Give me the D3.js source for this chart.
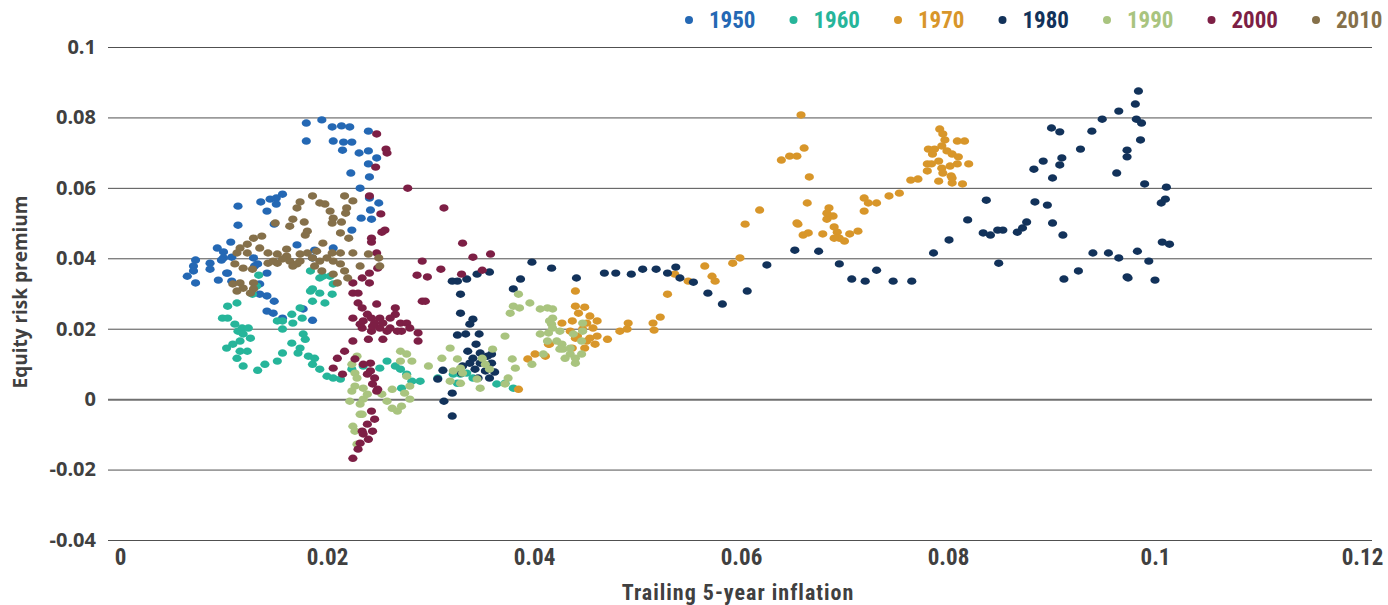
<!DOCTYPE html>
<html>
<head>
<meta charset="utf-8">
<script src="https://cdn.jsdelivr.net/npm/d3@7"></script>
<style>
body { margin: 0; background: #fff; }
svg { display: block; }
.cond { font-family: "Liberation Sans Narrow", "Roboto Condensed", "DejaVu Sans Condensed", sans-serif; font-weight: bold; font-stretch: condensed; }
.reg { font-family: "Open Sans", "Noto Sans", sans-serif; font-weight: bold; }
</style>
</head>
<body>
<svg width="1388" height="605"></svg>
<script>
var decades = ["1950", "1960", "1970", "1980", "1990", "2000", "2010"];
var colors = ["#2468b4", "#26b59a", "#d8962a", "#12325a", "#a9c47f", "#7d1f45", "#85704a"];
var xTicks = [0, 0.02, 0.04, 0.06, 0.08, 0.1, 0.12];
var xTickLabels = ["0", "0.02", "0.04", "0.06", "0.08", "0.1", "0.12"];
var yTicks = [-0.04, -0.02, 0, 0.02, 0.04, 0.06, 0.08, 0.1];
var yTickLabels = ["-0.04", "-0.02", "0", "0.02", "0.04", "0.06", "0.08", "0.1"];

// [trailing 5-year inflation, equity risk premium]
var s1950 = [
[0.0180,0.0784],[0.0195,0.0793],[0.0205,0.0773],[0.0214,0.0776],[0.0222,0.0773],[0.0240,0.0761],
[0.0180,0.0733],[0.0206,0.0733],[0.0216,0.0730],[0.0224,0.0730],[0.0215,0.0707],[0.0231,0.0699],
[0.0240,0.0705],[0.0248,0.0685],[0.0240,0.0668],[0.0223,0.0642],[0.0241,0.0631],[0.0232,0.0599],
[0.0241,0.0571],[0.0250,0.0557],[0.0242,0.0537],[0.0233,0.0514],[0.0243,0.0511],[0.0224,0.0480],
[0.0114,0.0548],[0.0136,0.0560],[0.0145,0.0568],[0.0151,0.0571],[0.0157,0.0582],[0.0151,0.0554],
[0.0142,0.0534],[0.0114,0.0494],[0.0149,0.0497],[0.0171,0.0438],[0.0188,0.0423],[0.0206,0.0429],
[0.0107,0.0446],[0.0094,0.0429],[0.0100,0.0418],[0.0100,0.0401],[0.0098,0.0395],[0.0108,0.0403],
[0.0073,0.0395],[0.0071,0.0378],[0.0087,0.0386],[0.0087,0.0369],[0.0065,0.0349],[0.0071,0.0364],
[0.0104,0.0358],[0.0142,0.0358],[0.0133,0.0384],[0.0129,0.0401],
[0.0073,0.0330],[0.0095,0.0338],[0.0103,0.0358],[0.0108,0.0335],[0.0130,0.0378],[0.0135,0.0327],
[0.0135,0.0298],[0.0142,0.0293],[0.0149,0.0278],[0.0142,0.0250],[0.0148,0.0244],[0.0157,0.0230],
[0.0177,0.0256],[0.0186,0.0224],[0.0186,0.0401]
];
var s1960 = [
[0.0134,0.0352],[0.0128,0.0298],[0.0132,0.0321],[0.0184,0.0364],[0.0193,0.0344],[0.0203,0.0349],
[0.0206,0.0327],[0.0205,0.0298],[0.0193,0.0301],[0.0186,0.0313],[0.0186,0.0278],[0.0198,0.0273],
[0.0174,0.0259],[0.0166,0.0241],[0.0176,0.0230],[0.0167,0.0216],[0.0157,0.0222],[0.0152,0.0222],
[0.0157,0.0199],[0.0113,0.0273],[0.0104,0.0264],[0.0099,0.0230],[0.0104,0.0230],[0.0111,0.0213],
[0.0118,0.0202],[0.0124,0.0202],[0.0114,0.0193],[0.0119,0.0185],[0.0126,0.0173],[0.0116,0.0165],
[0.0109,0.0156],[0.0103,0.0145],[0.0116,0.0136],[0.0123,0.0136],[0.0113,0.0116],[0.0119,0.0094],
[0.0133,0.0082],[0.0140,0.0099],[0.0152,0.0108],[0.0157,0.0131],[0.0166,0.0159],[0.0177,0.0185],
[0.0179,0.0170],[0.0174,0.0145],[0.0172,0.0131],[0.0182,0.0122],[0.0188,0.0116],[0.0186,0.0099],
[0.0193,0.0085],[0.0200,0.0065],[0.0206,0.0060],[0.0213,0.0057],[0.0224,0.0085],[0.0235,0.0094],
[0.0251,0.0088],[0.0258,0.0108],[0.0266,0.0094],[0.0272,0.0031],[0.0271,0.0085],[0.0277,0.0071],
[0.0282,0.0051],[0.0290,0.0051],[0.0307,0.0060],[0.0322,0.0071],[0.0326,0.0045],[0.0329,0.0071],
[0.0335,0.0074],[0.0341,0.0060],[0.0364,0.0043],[0.0372,0.0045],[0.0380,0.0031],[0.0196,0.0349],
[0.0184,0.0307]
];
var s1970 = [
[0.0604,0.0497],[0.0655,0.0497],[0.0660,0.0466],[0.0665,0.0472],[0.0565,0.0378],[0.0592,0.0386],
[0.0599,0.0401],[0.0536,0.0355],[0.0549,0.0335],[0.0572,0.0349],[0.0575,0.0335],[0.0529,0.0298],
[0.0440,0.0307],[0.0440,0.0264],[0.0449,0.0261],[0.0443,0.0244],[0.0454,0.0236],[0.0461,0.0222],
[0.0437,0.0222],[0.0451,0.0216],[0.0457,0.0202],[0.0447,0.0199],[0.0461,0.0179],[0.0454,0.0173],
[0.0440,0.0173],[0.0451,0.0165],[0.0459,0.0156],[0.0449,0.0145],[0.0437,0.0145],[0.0471,0.0170],
[0.0483,0.0193],[0.0490,0.0199],[0.0491,0.0216],[0.0515,0.0216],[0.0522,0.0233],[0.0516,0.0196],
[0.0414,0.0156],[0.0411,0.0122],[0.0401,0.0128],[0.0394,0.0114],[0.0427,0.0216],[0.0385,0.0028],
[0.0442,0.0179],[0.0435,0.0193],[0.0415,0.0156],
[0.0658,0.0807],[0.0639,0.0679],[0.0647,0.0690],[0.0654,0.0690],[0.0661,0.0713],[0.0666,0.0631],
[0.0618,0.0537],[0.0664,0.0557],[0.0654,0.0500],[0.0679,0.0469],[0.0683,0.0511],[0.0685,0.0543],
[0.0689,0.0520],[0.0683,0.0528],[0.0690,0.0489],[0.0693,0.0474],[0.0695,0.0457],[0.0700,0.0449],
[0.0690,0.0457],[0.0705,0.0469],[0.0713,0.0477],[0.0719,0.0534],[0.0719,0.0571],[0.0723,0.0557],
[0.0731,0.0557],[0.0743,0.0577],[0.0753,0.0585],[0.0764,0.0622],[0.0771,0.0625],[0.0780,0.0648],
[0.0780,0.0668],[0.0785,0.0696],[0.0781,0.0710],[0.0787,0.0710],[0.0792,0.0767],[0.0795,0.0753],
[0.0797,0.0736],[0.0794,0.0719],[0.0799,0.0705],[0.0804,0.0696],[0.0810,0.0688],[0.0791,0.0676],
[0.0794,0.0656],[0.0802,0.0662],[0.0809,0.0668],[0.0820,0.0668],[0.0795,0.0642],[0.0803,0.0634],
[0.0791,0.0619],[0.0804,0.0614],[0.0814,0.0611],[0.0809,0.0733],[0.0816,0.0733],[0.0784,0.0668],
[0.0804,0.0628]
];
var s1980 = [
[0.0398,0.0389],[0.0417,0.0372],[0.0441,0.0344],[0.0357,0.0361],[0.0345,0.0355],[0.0335,0.0341],
[0.0326,0.0335],[0.0321,0.0335],[0.0329,0.0298],[0.0387,0.0341],[0.0380,0.0313],[0.0329,0.0244],
[0.0341,0.0227],[0.0338,0.0213],[0.0334,0.0185],[0.0326,0.0182],[0.0347,0.0185],[0.0344,0.0156],
[0.0336,0.0136],[0.0348,0.0131],[0.0341,0.0116],[0.0355,0.0122],[0.0359,0.0128],[0.0338,0.0102],
[0.0348,0.0102],[0.0359,0.0102],[0.0343,0.0085],[0.0353,0.0080],[0.0346,0.0060],[0.0331,0.0094],
[0.0330,0.0074],[0.0312,0.0082],[0.0307,0.0057],[0.0321,0.0017],[0.0313,-0.0006],[0.0321,-0.0048],
[0.0357,0.0060],[0.0362,0.0077],
[0.0468,0.0358],[0.0479,0.0358],[0.0494,0.0355],[0.0505,0.0369],[0.0518,0.0369],[0.0529,0.0358],
[0.0537,0.0375],[0.0541,0.0344],[0.0554,0.0332],[0.0568,0.0301],[0.0582,0.0270],[0.0606,0.0307],
[0.0625,0.0381],[0.0652,0.0423],[0.0675,0.0420],[0.0695,0.0384],[0.0707,0.0341],[0.0720,0.0335],
[0.0731,0.0366],[0.0747,0.0335],[0.0765,0.0335],[0.0786,0.0415],[0.0801,0.0452],[0.0819,0.0509],
[0.0837,0.0565],[0.0834,0.0472],[0.0841,0.0466],[0.0849,0.0386],[0.0848,0.0480],[0.0853,0.0480],
[0.0867,0.0474],[0.0872,0.0486],[0.0876,0.0503],[0.0884,0.0560],[0.0896,0.0551],[0.0901,0.0500],
[0.0911,0.0466],[0.0883,0.0653],[0.0892,0.0676],[0.0901,0.0628],[0.0908,0.0665],[0.0910,0.0685],
[0.0900,0.0770],[0.0908,0.0759],[0.0928,0.0710],[0.0939,0.0761],[0.0949,0.0795],[0.0965,0.0818],
[0.0963,0.0642],[0.0973,0.0707],[0.0973,0.0688],[0.0981,0.0838],[0.0984,0.0875],[0.0982,0.0795],
[0.0987,0.0784],[0.0986,0.0736],[0.0990,0.0611],[0.1011,0.0602],[0.1006,0.0557],[0.1010,0.0568],
[0.1007,0.0446],[0.1014,0.0440],[0.0994,0.0392],[0.1000,0.0338],[0.0983,0.0420],[0.0965,0.0401],
[0.0955,0.0415],[0.0940,0.0415],[0.0926,0.0364],[0.0912,0.0341],[0.0973,0.0347],[0.0974,0.0344]
];
var s1990 = [
[0.0229,0.0122],[0.0224,0.0099],[0.0227,0.0074],[0.0229,0.0060],[0.0224,0.0023],[0.0235,0.0031],
[0.0239,0.0014],[0.0235,0.0000],[0.0222,-0.0006],[0.0232,-0.0014],[0.0253,0.0014],[0.0258,-0.0006],
[0.0263,-0.0026],[0.0232,-0.0043],[0.0225,-0.0077],[0.0227,-0.0091],[0.0229,-0.0128],[0.0271,0.0136],
[0.0277,0.0128],[0.0282,0.0108],[0.0271,0.0108],[0.0277,0.0065],[0.0280,0.0037],[0.0275,0.0017],
[0.0280,0.0000],[0.0268,-0.0034],[0.0272,-0.0020],[0.0263,0.0028],[0.0298,0.0094],[0.0311,0.0116],
[0.0319,0.0145],[0.0326,0.0114],[0.0329,0.0088],[0.0331,0.0074],[0.0322,0.0080],[0.0319,0.0051],
[0.0329,0.0045],[0.0345,0.0057],[0.0350,0.0116],[0.0353,0.0099],[0.0357,0.0085],[0.0360,0.0142],
[0.0372,0.0179],[0.0379,0.0114],[0.0382,0.0088],[0.0375,0.0060],[0.0372,0.0043],[0.0348,0.0031],
[0.0377,0.0244],[0.0380,0.0264],[0.0385,0.0298],[0.0396,0.0273],[0.0406,0.0256],[0.0413,0.0259],
[0.0418,0.0230],[0.0417,0.0213],[0.0414,0.0188],[0.0406,0.0185],[0.0413,0.0165],[0.0422,0.0165],
[0.0428,0.0142],[0.0435,0.0128],[0.0440,0.0102],[0.0446,0.0128],[0.0438,0.0185],[0.0447,0.0216],
[0.0447,0.0193],[0.0386,0.0259],[0.0418,0.0256],[0.0415,0.0222],[0.0418,0.0202],[0.0425,0.0193],
[0.0427,0.0156],[0.0425,0.0142],[0.0435,0.0145],[0.0440,0.0116],[0.0430,0.0116],[0.0409,0.0128],
[0.0398,0.0099],[0.0446,0.0165],[0.0227,0.0037],[0.0234,-0.0043]
];
var s2000 = [
[0.0248,0.0753],[0.0257,0.0710],[0.0258,0.0699],[0.0247,0.0659],[0.0278,0.0599],[0.0241,0.0577],
[0.0252,0.0526],[0.0313,0.0543],[0.0256,0.0480],[0.0253,0.0474],[0.0243,0.0457],[0.0243,0.0446],
[0.0331,0.0443],[0.0341,0.0403],[0.0358,0.0412],[0.0350,0.0366],[0.0330,0.0355],[0.0292,0.0392],
[0.0287,0.0352],[0.0297,0.0347],[0.0310,0.0369],[0.0248,0.0415],[0.0249,0.0372],[0.0241,0.0358],
[0.0234,0.0344],[0.0241,0.0330],[0.0225,0.0330],[0.0225,0.0301],[0.0230,0.0301],[0.0230,0.0273],
[0.0234,0.0259],[0.0248,0.0270],[0.0239,0.0241],[0.0243,0.0230],[0.0235,0.0222],[0.0246,0.0216],
[0.0225,0.0230],[0.0234,0.0202],[0.0243,0.0193],[0.0251,0.0202],[0.0258,0.0193],[0.0254,0.0170],
[0.0240,0.0170],[0.0266,0.0259],[0.0266,0.0241],[0.0271,0.0216],[0.0277,0.0216],[0.0280,0.0202],
[0.0272,0.0193],[0.0288,0.0188],[0.0288,0.0165],[0.0292,0.0278],[0.0295,0.0278],[0.0225,0.0165],
[0.0217,0.0136],[0.0210,0.0116],[0.0206,0.0088],[0.0215,0.0071],[0.0227,0.0114],[0.0242,0.0102],
[0.0242,0.0080],[0.0246,0.0060],[0.0244,0.0043],[0.0249,0.0028],[0.0243,-0.0034],[0.0246,-0.0057],
[0.0239,-0.0071],[0.0244,-0.0091],[0.0234,-0.0091],[0.0235,-0.0099],[0.0240,-0.0114],[0.0232,-0.0125],
[0.0230,-0.0142],[0.0225,-0.0168],[0.0261,0.0202],[0.0268,0.0193],[0.0232,0.0213],[0.0244,0.0207],
[0.0235,0.0099],[0.0239,0.0071],[0.0248,0.0023],[0.0251,0.0230],[0.0254,0.0216],[0.0261,0.0230]
];
var s2010 = [
[0.0186,0.0577],[0.0174,0.0560],[0.0171,0.0543],[0.0193,0.0557],[0.0198,0.0554],[0.0203,0.0534],
[0.0206,0.0514],[0.0217,0.0577],[0.0225,0.0563],[0.0219,0.0543],[0.0218,0.0528],[0.0214,0.0503],
[0.0205,0.0500],[0.0178,0.0503],[0.0167,0.0511],[0.0164,0.0491],[0.0150,0.0500],[0.0181,0.0477],
[0.0179,0.0466],[0.0213,0.0472],[0.0221,0.0457],[0.0240,0.0412],[0.0250,0.0401],[0.0251,0.0378],
[0.0232,0.0378],[0.0137,0.0463],[0.0129,0.0457],[0.0123,0.0440],[0.0116,0.0429],[0.0113,0.0415],
[0.0123,0.0415],[0.0135,0.0429],[0.0143,0.0415],[0.0143,0.0386],[0.0152,0.0412],[0.0161,0.0426],
[0.0161,0.0406],[0.0157,0.0398],[0.0164,0.0392],[0.0174,0.0392],[0.0174,0.0412],[0.0181,0.0415],
[0.0186,0.0401],[0.0193,0.0392],[0.0200,0.0401],[0.0205,0.0415],[0.0206,0.0392],[0.0213,0.0384],
[0.0217,0.0364],[0.0220,0.0344],[0.0210,0.0330],[0.0188,0.0378],[0.0195,0.0364],[0.0206,0.0355],
[0.0111,0.0384],[0.0119,0.0372],[0.0128,0.0369],[0.0152,0.0386],[0.0196,0.0443],[0.0190,0.0420],
[0.0225,0.0415],[0.0171,0.0384],[0.0213,0.0415],[0.0116,0.0330],[0.0109,0.0327],[0.0129,0.0330],
[0.0119,0.0315],[0.0129,0.0313],[0.0113,0.0307],[0.0126,0.0301],[0.0148,0.0392],[0.0167,0.0378]
];
var series = [s1950, s1960, s1970, s1980, s1990, s2000, s2010];

var left = 108, right = 1372;
var textColor = "#404040";

var svg = d3.select("svg");

var x = d3.scaleLinear().domain([0, 0.12]).range([120, 1362]);
var y = d3.scaleLinear().domain([-0.04, 0.1]).range([540, 47]);

// Gridlines + y labels
var yAxis = svg.append("g")
    .attr("transform", "translate(" + left + ",0)")
    .call(d3.axisLeft(y)
        .tickValues(yTicks)
        .tickSize(-(right - left))
        .tickPadding(12)
        .tickFormat(function(d, i) { return yTickLabels[i]; }));
yAxis.select(".domain").remove();
yAxis.selectAll(".tick line")
    .attr("stroke", function(d) { return d === 0 ? "#707070" : "#505050"; })
    .attr("stroke-width", function(d) { return d === 0 ? 2 : 1; });
yAxis.selectAll(".tick text")
    .attr("class", "reg")
    .attr("font-size", 20)
    .attr("fill", textColor);

// x labels
var xAxis = svg.append("g")
    .attr("transform", "translate(0,540)")
    .call(d3.axisBottom(x)
        .tickValues(xTicks)
        .tickSize(0)
        .tickPadding(9)
        .tickFormat(function(d, i) { return xTickLabels[i]; }));
xAxis.select(".domain").remove();
xAxis.selectAll(".tick text")
    .attr("class", "cond")
    .attr("font-size", 23)
    .attr("fill", textColor);

// Axis titles
svg.append("text")
    .attr("class", "reg")
    .attr("font-size", 19)
    .attr("font-weight", 600)
    .attr("fill", textColor)
    .attr("text-anchor", "middle")
    .attr("transform", "translate(27,292) rotate(-90)")
    .text("Equity risk premium");

svg.append("text")
    .attr("class", "cond")
    .attr("font-size", 22)
    .attr("letter-spacing", 1)
    .attr("fill", textColor)
    .attr("text-anchor", "middle")
    .attr("x", 738)
    .attr("y", 600)
    .text("Trailing 5-year inflation");

// Points, one group per decade
svg.append("g")
    .selectAll("g")
    .data(series)
    .enter().append("g")
    .attr("fill", function(d, i) { return colors[i]; })
    .selectAll("ellipse")
    .data(function(d) { return d; })
    .enter().append("ellipse")
    .attr("cx", function(d) { return x(d[0]); })
    .attr("cy", function(d) { return y(d[1]); })
    .attr("rx", 4.6)
    .attr("ry", 3.7);

// Legend
var legend = svg.append("g")
    .selectAll("g")
    .data(decades)
    .enter().append("g")
    .attr("transform", function(d, i) { return "translate(" + (689 + i * 104.5) + ",20)"; });

legend.append("circle")
    .attr("r", 4)
    .attr("fill", function(d, i) { return colors[i]; });

legend.append("text")
    .attr("class", "cond")
    .attr("x", 20)
    .attr("dy", "0.36em")
    .attr("font-size", 23)
    .attr("fill", function(d, i) { return colors[i]; })
    .text(function(d) { return d; });
</script>
</body>
</html>
